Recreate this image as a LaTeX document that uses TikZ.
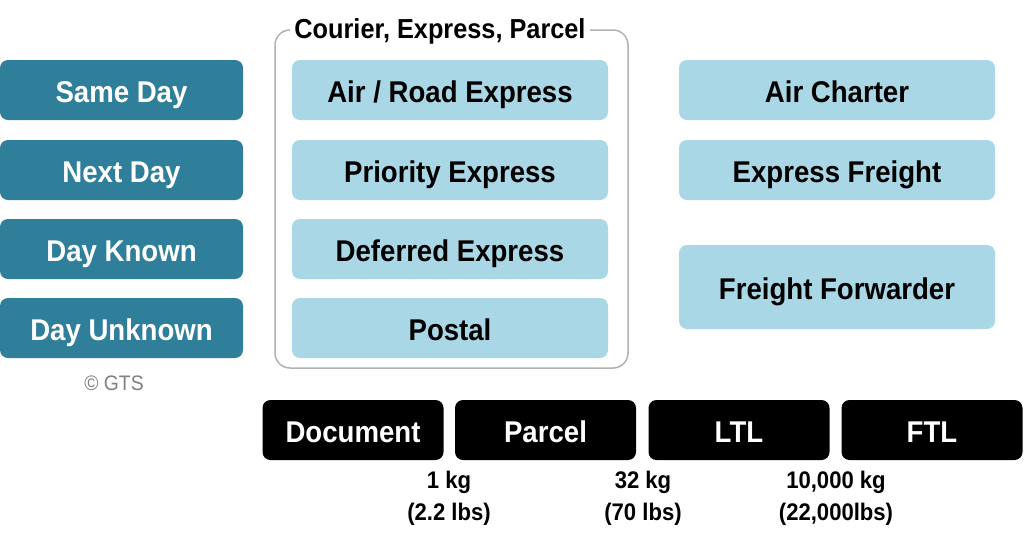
\documentclass[tikz,border=0pt]{standalone}
\usepackage{fontspec}
\setmainfont{Liberation Sans}[FakeStretch=0.92]
\usepackage{tikz}
\usetikzlibrary{positioning}
\definecolor{teal1}{HTML}{2F7F9B}
\definecolor{sky1}{HTML}{A9D7E5}
\tikzset{tbox/.style={rounded corners=8pt,minimum width=243pt,minimum height=60pt,inner sep=0pt,
    text height=24pt,text depth=0pt,font=\fontsize{30}{34}\selectfont\bfseries},
  day/.style={tbox,fill=teal1,text=white},
  mode/.style={tbox,fill=sky1,text=black,minimum width=316pt},
  size/.style={tbox,fill=black,text=white,minimum width=181pt},
  wlab/.style={align=center,font=\fontsize{24}{32}\selectfont\bfseries}}
\begin{document}
\begin{tikzpicture}[x=1pt,y=-1pt]
\useasboundingbox[fill=white] (0,0) rectangle (1024,542);
% service levels
\node[day] (same) at (121.5,90){Same Day};
\node[day] (next) at (121.5,170){Next Day};
\node[day] (known) at (121.5,249){Day Known};
\node[day] (unknown) at (121.5,328){Day Unknown};
\node[text=gray,font=\fontsize{21}{24}\selectfont] (copy) at (114,383){\textcopyright{} GTS};
% courier, express, parcel group
\draw[gray!60,line width=1.5pt,rounded corners=15pt] (275,30) rectangle (628,368);
\node[fill=white,inner sep=4pt,font=\fontsize{27.5}{30}\selectfont\bfseries] (cep) at (440,31){Courier, Express, Parcel};
\node[mode] (are) at (450,90){Air / Road Express};
\node[mode] (pe) at (450,170){Priority Express};
\node[mode] (de) at (450,249){Deferred Express};
\node[mode] (post) at (450,328){Postal};
% freight side
\node[mode] (ac) at (837,90){Air Charter};
\node[mode] (ef) at (837,170){Express Freight};
\node[mode,minimum height=84pt] (ff) at (837,287){Freight Forwarder};
% shipment sizes
\node[size] (doc) at (353,430){Document};
\node[size] (parcel) at (545.5,430){Parcel};
\node[size] (ltl) at (739,430){LTL};
\node[size] (ftl) at (932,430){FTL};
\node[wlab] (w1) at (449,498){1 kg\\(2.2 lbs)};
\node[wlab] (w2) at (643,498){32 kg\\(70 lbs)};
\node[wlab] (w3) at (836,498){10,000 kg\\(22,000lbs)};
\end{tikzpicture}
\end{document}
